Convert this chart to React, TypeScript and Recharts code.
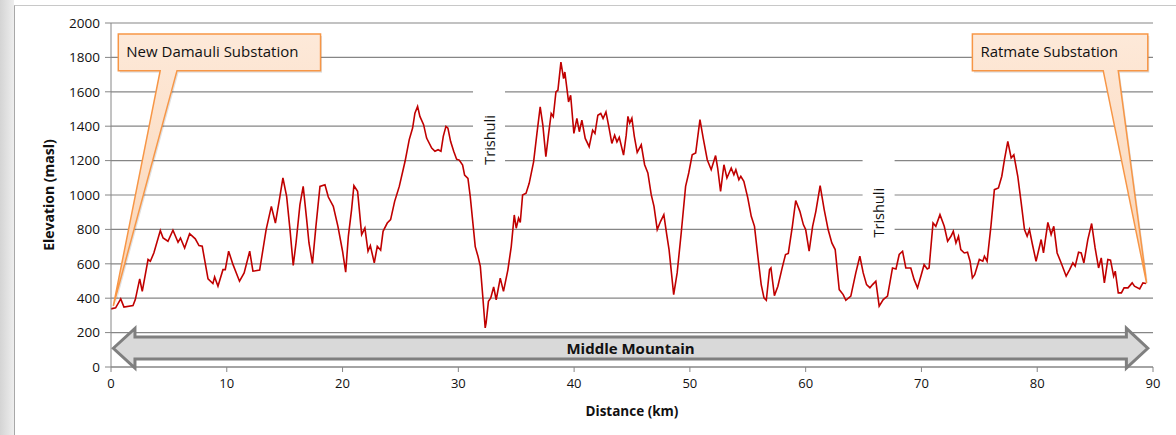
import React from 'react';
import { LineChart, Line, XAxis, YAxis, CartesianGrid } from 'recharts';

// distance along the line (km) and elevation (masl), read from the profile
const distanceKm = [
  0, 0.4, 0.84, 1.12, 1.9, 2.1, 2.48, 2.7, 3.2, 3.4, 3.7, 4.26, 4.5, 4.92, 5.35, 5.79, 6.0, 6.36, 6.79, 7.28,
  7.6, 7.88, 8.38, 8.8, 8.95, 9.24, 9.67, 9.87, 10.16, 10.54, 11.1, 11.5, 11.98, 12.26, 12.84, 13.4, 13.85, 14.2, 14.57, 14.85,
  15.17, 15.46, 15.74, 15.98, 16.32, 16.6, 16.9, 17.1, 17.4, 17.7, 18.05, 18.48, 18.77, 19.2, 19.6, 20.0, 20.27, 20.5, 20.78, 20.98,
  21.3, 21.65, 21.93, 22.2, 22.4, 22.74, 23.0, 23.29, 23.5, 23.86, 24.15, 24.5, 24.9, 25.4, 25.76, 26.05, 26.25, 26.48, 26.68, 27.0,
  27.26, 27.7, 27.98, 28.25, 28.5, 28.7, 28.93, 29.1, 29.33, 29.6, 29.85, 30.08, 30.37, 30.54, 30.83, 31.03, 31.23, 31.46, 31.7, 31.9,
  32.1, 32.32, 32.4, 32.6, 32.8, 33.05, 33.27, 33.62, 33.9, 34.28, 34.57, 34.83, 35.0, 35.2, 35.35, 35.55, 35.85, 36.12, 36.5, 36.79,
  37.07, 37.3, 37.56, 37.8, 38.02, 38.2, 38.43, 38.6, 38.86, 39.09, 39.2, 39.52, 39.7, 39.98, 40.24, 40.45, 40.67, 40.96, 41.3, 41.6,
  41.8, 42.05, 42.3, 42.5, 42.75, 43.0, 43.26, 43.5, 43.7, 43.9, 44.27, 44.5, 44.65, 44.8, 44.99, 45.2, 45.45, 45.8, 46.09, 46.37,
  46.66, 46.9, 47.18, 47.47, 47.75, 48.0, 48.2, 48.6, 48.9, 49.25, 49.63, 49.9, 50.2, 50.5, 50.87, 51.15, 51.5, 51.84, 52.22, 52.4,
  52.65, 52.94, 53.2, 53.57, 53.8, 53.97, 54.23, 54.4, 54.66, 55.0, 55.3, 55.58, 55.87, 56.16, 56.4, 56.6, 56.88, 57.0, 57.3, 57.6,
  57.97, 58.26, 58.5, 58.85, 59.14, 59.5, 59.8, 60.0, 60.3, 60.6, 60.88, 61.25, 61.6, 61.94, 62.26, 62.55, 62.9, 63.24, 63.47, 63.9,
  64.33, 64.68, 64.97, 65.26, 65.55, 65.78, 66.06, 66.35, 66.7, 67.07, 67.5, 67.8, 68.08, 68.37, 68.65, 69.08, 69.37, 69.66, 69.95, 70.23,
  70.5, 70.66, 71.0, 71.24, 71.6, 71.97, 72.26, 72.55, 72.75, 72.98, 73.2, 73.4, 73.7, 73.98, 74.2, 74.4, 74.6, 75.0, 75.3, 75.44,
  75.67, 76.0, 76.3, 76.65, 76.94, 77.17, 77.46, 77.75, 77.98, 78.32, 78.6, 78.9, 79.13, 79.33, 79.56, 79.9, 80.34, 80.54, 80.92, 81.2,
  81.43, 81.72, 82.07, 82.5, 82.8, 83.08, 83.28, 83.57, 83.8, 84.03, 84.37, 84.7, 85.0, 85.3, 85.53, 85.8, 86.1, 86.33, 86.6, 86.74,
  87.0, 87.27, 87.5, 87.84, 88.2, 88.4, 88.85, 89.13, 89.4,
];

const elevationMasl = [
  338, 344, 396, 348, 357, 392, 512, 440, 625, 615, 663, 793, 750, 731, 795, 725, 750, 692, 775, 745,
  706, 702, 512, 485, 524, 470, 566, 566, 673, 595, 499, 547, 673, 557, 563, 799, 934, 837, 983, 1099,
  992, 799, 590, 721, 944, 1050, 857, 721, 601, 818, 1050, 1060, 988, 934, 818, 673, 551, 760, 915, 1054,
  1021, 770, 808, 673, 706, 605, 702, 679, 789, 837, 857, 963, 1050, 1196, 1322, 1389, 1476, 1515, 1457, 1409,
  1331, 1273, 1254, 1263, 1254, 1341, 1399, 1389, 1312, 1254, 1208, 1203, 1174, 1116, 1097, 991, 855, 700, 643, 585,
  420, 227, 256, 382, 401, 465, 391, 517, 440, 565, 700, 884, 807, 865, 840, 1000, 1010, 1068, 1193, 1358,
  1513, 1406, 1223, 1358, 1474, 1455, 1600, 1609, 1773, 1677, 1715, 1541, 1580, 1358, 1445, 1368, 1435, 1329, 1281, 1377,
  1358, 1464, 1474, 1445, 1483, 1396, 1300, 1348, 1309, 1335, 1232, 1348, 1457, 1418, 1447, 1341, 1248, 1292, 1176, 1128,
  1002, 934, 799, 847, 886, 770, 683, 421, 547, 779, 1050, 1128, 1234, 1244, 1438, 1331, 1205, 1147, 1229, 1157,
  1021, 1176, 1099, 1157, 1118, 1147, 1089, 1109, 1080, 983, 876, 818, 644, 479, 402, 388, 566, 576, 415, 470,
  576, 654, 660, 818, 968, 905, 828, 799, 673, 818, 905, 1054, 915, 799, 721, 683, 450, 421, 388, 412,
  547, 644, 547, 479, 460, 479, 499, 354, 392, 412, 576, 570, 654, 673, 576, 576, 508, 460, 528, 595,
  570, 576, 837, 818, 886, 818, 731, 760, 789, 721, 760, 683, 663, 667, 615, 518, 537, 625, 615, 644,
  615, 818, 1031, 1041, 1109, 1205, 1312, 1215, 1234, 1109, 963, 799, 760, 799, 721, 615, 741, 663, 841, 770,
  818, 663, 605, 528, 566, 605, 586, 667, 663, 605, 741, 834, 692, 576, 634, 489, 625, 621, 528, 557,
  431, 431, 460, 460, 489, 470, 454, 489, 485,
];

const distanceTicks = [0, 10, 20, 30, 40, 50, 60, 70, 80, 90];
const elevationTicks = [0, 200, 400, 600, 800, 1000, 1200, 1400, 1600, 1800, 2000];

const profile = distanceKm.map((km, i) => ({ km, elev: elevationMasl[i] }));

const W = 1176;
const H = 435;
const MARGIN = { top: 23, right: 23, left: 50, bottom: 0 };
const Y_AXIS_W = 61;
const X_AXIS_H = 68;
const FONT = '"Open Sans", "Noto Sans", sans-serif';

// plot box, mirrors the chart layout above; used for annotations only
const PL = MARGIN.left + Y_AXIS_W;
const PR = W - MARGIN.right;
const PT = MARGIN.top;
const PB = H - MARGIN.bottom - X_AXIS_H;
const sx = (km: number) => PL + (km / 90) * (PR - PL);
const sy = (e: number) => PB - (e / 2000) * (PB - PT);

function Callout({ x1, x2, y1, y2, b1, b2, tipKm, tipElev, text, id }: any) {
  const L = sx(x1), R = sx(x2), T = sy(y1), B = sy(y2);
  const d = `M${L},${T} H${R} V${B} H${sx(b2)} L${sx(tipKm)},${sy(tipElev)} L${sx(b1)},${B} H${L} Z`;
  return (
    <g>
      <defs>
        <linearGradient id={id} x1="0" y1="0" x2="0" y2="1">
          <stop offset="0%" stopColor="#fde9d9" />
          <stop offset="100%" stopColor="#fbd3b2" />
        </linearGradient>
      </defs>
      <path d={d} fill="#000" opacity={0.12} transform="translate(1.5,2)" />
      <path d={d} fill={`url(#${id})`} stroke="#f79646" strokeWidth={1.5} strokeLinejoin="miter" />
      <text x={L + 8} y={(T + B) / 2 + 5} fontSize={15} fontFamily={FONT} fill="#111">
        {text}
      </text>
    </g>
  );
}

function RiverLabel({ km, elev, top, bottom }: any) {
  const cx = sx(km);
  const cy = sy(elev);
  return (
    <g>
      <rect x={cx - 16} y={sy(top)} width={32} height={sy(bottom) - sy(top)} fill="#fff" />
      <text
        x={cx}
        y={cy}
        transform={`rotate(-90 ${cx} ${cy})`}
        textAnchor="middle"
        dominantBaseline="central"
        fontSize={14.5}
        fontFamily={FONT}
        fill="#111"
      >
        Trishuli
      </text>
    </g>
  );
}

function MountainArrow() {
  const l = sx(0.2), r = sx(89.55);
  const hl = sx(2.07), hr = sx(87.7);
  const mid = sy(109);
  const bt = sy(174), bb = sy(47), ht = sy(225), hb = sy(-6);
  const d = `M${l},${mid} L${hl},${ht} V${bt} H${hr} V${ht} L${r},${mid} L${hr},${hb} V${bb} H${hl} V${hb} Z`;
  return (
    <g>
      <path d={d} fill="#d9d9d9" stroke="#7f7f7f" strokeWidth={3} strokeLinejoin="miter" />
      <text x={(l + r) / 2} y={mid + 5.5} textAnchor="middle" fontSize={15} fontWeight={700} fontFamily={FONT} fill="#111">
        Middle Mountain
      </text>
    </g>
  );
}

export default function App() {
  return (
    <div style={{ position: 'absolute', left: 0, top: 0, width: W, height: H, overflow: 'hidden', background: 'linear-gradient(to right, #d4d4d4, #eeeeee 14px, #fff 14px)' }}>
      <div style={{ position: 'absolute', left: 14, top: 5, width: W, height: H, background: '#fff', borderLeft: '1px solid #a8a8a8', borderTop: '1px solid #c8c8c8' }} />
      <div style={{ position: 'absolute', left: 0, top: 0 }}>
        <LineChart width={W} height={H} data={profile} margin={MARGIN}>
          <CartesianGrid vertical={false} stroke="#868686" strokeWidth={1.2} />
          <XAxis
            dataKey="km"
            type="number"
            domain={[0, 90]}
            ticks={distanceTicks}
            height={X_AXIS_H}
            stroke="#868686"
            tickSize={5}
            tickMargin={7}
            tick={{ fontSize: 13, fontFamily: FONT, fill: '#111' }}
            label={{ value: 'Distance (km)', position: 'center', dy: 10, fontSize: 13.5, fontWeight: 700, fontFamily: FONT, fill: '#111' }}
          />
          <YAxis
            type="number"
            domain={[0, 2000]}
            ticks={elevationTicks}
            width={Y_AXIS_W}
            stroke="#868686"
            tickSize={6}
            tickMargin={5}
            tick={{ fontSize: 13.5, fontFamily: FONT, fill: '#111' }}
            label={{ value: 'Elevation (masl)', angle: -90, position: 'center', dx: -31.5, fontSize: 14, fontWeight: 700, fontFamily: FONT, fill: '#111' }}
          />
          <Line
            type="linear"
            dataKey="elev"
            stroke="#c00000"
            strokeWidth={1.6}
            dot={false}
            activeDot={false}
            isAnimationActive={false}
          />
        </LineChart>
      </div>
      <svg width={W} height={H} style={{ position: 'absolute', left: 0, top: 0, pointerEvents: 'none' }}>
        <RiverLabel km={32.65} elev={1320} top={1695} bottom={1085} />
        <RiverLabel km={66.3} elev={897} top={1290} bottom={680} />
        <MountainArrow />
        <Callout id="gDamauli" x1={0.63} x2={18.1} y1={1936} y2={1723} b1={4.25} b2={5.7} tipKm={0.2} tipElev={355} text="New Damauli Substation" />
        <Callout id="gRatmate" x1={74.4} x2={89.55} y1={1936} y2={1723} b1={85.7} b2={87.0} tipKm={89.45} tipElev={487} text="Ratmate Substation" />
      </svg>
    </div>
  );
}
